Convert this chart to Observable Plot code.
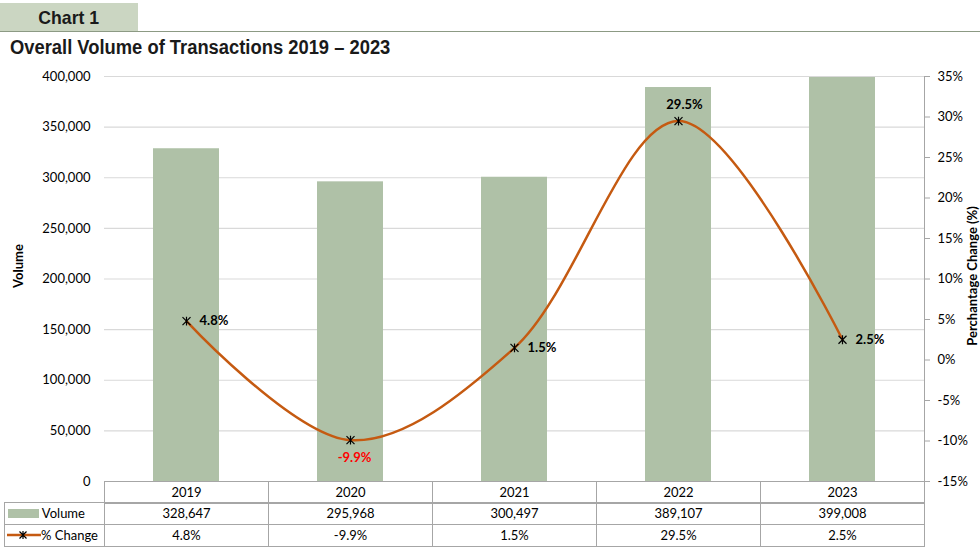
<!DOCTYPE html>
<html><head><meta charset="utf-8">
<script src="https://cdn.jsdelivr.net/npm/d3@7"></script>
<script src="https://cdn.jsdelivr.net/npm/@observablehq/plot@0.6"></script>
<style>
body{margin:0;width:980px;height:550px;position:relative;background:#fff;font-family:Lato,"Open Sans",sans-serif;overflow:hidden;color:#000}
#hdr{position:absolute;left:0;top:3px;width:138px;height:28px;background:#cbd6c2;color:#1a1a1a;text-align:center;line-height:29px}
#hdr span{display:inline-block;font:bold 19px "Liberation Sans",sans-serif;transform:scaleX(0.93)}
#rule{position:absolute;left:0;top:31px;width:980px;height:0;border-top:1px solid #8c9a84}
#title{position:absolute;left:10px;top:36px;font:bold 20px "Liberation Sans",sans-serif;color:#1a1a1a;white-space:nowrap;transform:scaleX(0.918);transform-origin:0 0}
#chart{position:absolute;left:0;top:62px}
#tbl{position:absolute;left:0;top:481px}
.cell{position:absolute;box-sizing:border-box;font-size:13px;text-align:center;line-height:21px;height:23px;border:1px solid #a6a6a6}
.vt{position:absolute;transform:translate(-50%,-50%) rotate(-90deg);font:bold 13px Lato,sans-serif;white-space:nowrap;line-height:13px}
</style></head><body>
<div id="hdr"><span>Chart 1</span></div><div id="rule"></div>
<div id="title">Overall Volume of Transactions 2019 – 2023</div>
<div id="chart"></div>
<div id="tbl"></div>
<script>
const years = ["2019","2020","2021","2022","2023"];
const volume = [328647, 295968, 300497, 389107, 399008];
const pctChange = [4.8, -9.9, 1.5, 29.5, 2.5];
const volTicks = [0, 50000, 100000, 150000, 200000, 250000, 300000, 350000, 400000];
const pctTicks = [-15, -10, -5, 0, 5, 10, 15, 20, 25, 30, 35];
const rowLabels = ["Volume", "% Change"];
const leftTitle = "Volume";
const rightTitle = "Perchantage Change (%)";

const pctMin = -15, pctMax = 35, volMax = 400000;
const toVol = p => (p - pctMin) / (pctMax - pctMin) * volMax;
const toPct = v => v / volMax * (pctMax - pctMin) + pctMin;
const rows = years.map((y, i) => ({year: y, volume: volume[i], pct: pctChange[i], pv: toVol(pctChange[i])}));
const fmtPct = d => d.toFixed(1) + "%";
const rightSet = new Set(["2019", "2021", "2023"]);

// Excel-like star marker: an X crossed by a vertical bar
const star = {draw(ctx, size) {
  const r = Math.sqrt(size / Math.PI);
  ctx.moveTo(-r, -r); ctx.lineTo(r, r);
  ctx.moveTo(-r, r); ctx.lineTo(r, -r);
  ctx.moveTo(0, -r * 1.1); ctx.lineTo(0, r * 1.1);
}};

const plot = Plot.plot({
  width: 980, height: 420,
  marginTop: 14, marginBottom: 1, marginLeft: 104, marginRight: 56,
  style: {fontFamily: "Lato, 'Open Sans', sans-serif", fontSize: "13px", color: "#000", overflow: "visible", background: "transparent"},
  x: {domain: years, paddingInner: 0.6, paddingOuter: 0.3, axis: null},
  y: {domain: [0, volMax], axis: null},
  marks: [
    Plot.gridY(volTicks.slice(1), {stroke: "#d9d9d9", strokeOpacity: 1, strokeWidth: 1.2}),
    Plot.barY(rows, {x: "year", y: "volume", fill: "#afc1a7"}),
    Plot.axisY({ticks: volTicks, tickFormat: d3.format(","), tickSize: 0, tickPadding: 14, label: null, fill: "#000"}),
    Plot.axisY({anchor: "right", ticks: pctTicks.map(toVol), tickFormat: v => Math.round(toPct(v)) + "%", tickSize: 5, tickPadding: 8, stroke: "#a6a6a6", label: null, fill: "#000"}),
    Plot.frame({anchor: "right", stroke: "#a6a6a6"}),
    Plot.line(rows, {x: "year", y: "pv", curve: "catmull-rom", stroke: "#c55a11", strokeWidth: 2.5}),
    Plot.dot(rows, {x: "year", y: "pv", symbol: star, stroke: "#000", r: 4, strokeWidth: 1.2}),
    Plot.text(rows.filter(d => rightSet.has(d.year)), {x: "year", y: "pv", text: d => fmtPct(d.pct), dx: 13, textAnchor: "start", fontWeight: "bold", fontSize: 13}),
    Plot.text(rows.filter(d => d.year === "2020"), {x: "year", y: "pv", text: d => fmtPct(d.pct), dy: 18, dx: 4, fill: "#ff0000", fontWeight: "bold", fontSize: 13}),
    Plot.text(rows.filter(d => d.year === "2022"), {x: "year", y: "pv", text: d => fmtPct(d.pct), dy: -16, dx: 6, fontWeight: "bold", fontSize: 13})
  ]
});
document.getElementById("chart").appendChild(plot);

// axis titles
function vtitle(txt, cx, cy) {
  const t = document.createElement("div");
  t.className = "vt"; t.textContent = txt;
  t.style.left = cx + "px"; t.style.top = cy + "px";
  document.body.appendChild(t);
}
vtitle(leftTitle, 18, 266);
vtitle(rightTitle, 972, 276);

// data table aligned to the x band scale
const xs = plot.scale("x");
const [r0, r1] = xs.range;
const step = (r1 - r0) / years.length;
const tbl = document.getElementById("tbl");
const rowTop = [0, 22, 45];
function cell(left, top, w, html, extra) {
  const c = document.createElement("div");
  c.className = "cell";
  c.style.left = left + "px"; c.style.top = top + "px"; c.style.width = (w + 1) + "px";
  c.innerHTML = html;
  if (extra) Object.assign(c.style, extra);
  tbl.appendChild(c);
}
years.forEach((y, i) => {
  const left = r0 + i * step;
  cell(left, rowTop[0], step, y);
  cell(left, rowTop[1] - 1, step, d3.format(",")(volume[i]));
  cell(left, rowTop[2] - 2, step, fmtPct(pctChange[i]));
});
const volKey = `<svg width="34" height="12" style="vertical-align:-1px"><rect x="3" y="2" width="31" height="9" fill="#afc1a7"/></svg>`;
const pctKey = `<svg width="36" height="12" style="vertical-align:-1px"><line x1="2" x2="36" y1="6" y2="6" stroke="#c55a11" stroke-width="2.5"/><path d="M-3.5,-3.5L3.5,3.5M-3.5,3.5L3.5,-3.5M0,-4L0,4" transform="translate(18,6)" stroke="#000" stroke-width="1.2" fill="none"/></svg>`;
cell(4, rowTop[1] - 1, r0 - 4, volKey + " " + rowLabels[0], {textAlign: "left", paddingLeft: "0px"});
cell(4, rowTop[2] - 2, r0 - 4, pctKey + rowLabels[1], {textAlign: "left", paddingLeft: "0px"});
</script>
</body></html>
